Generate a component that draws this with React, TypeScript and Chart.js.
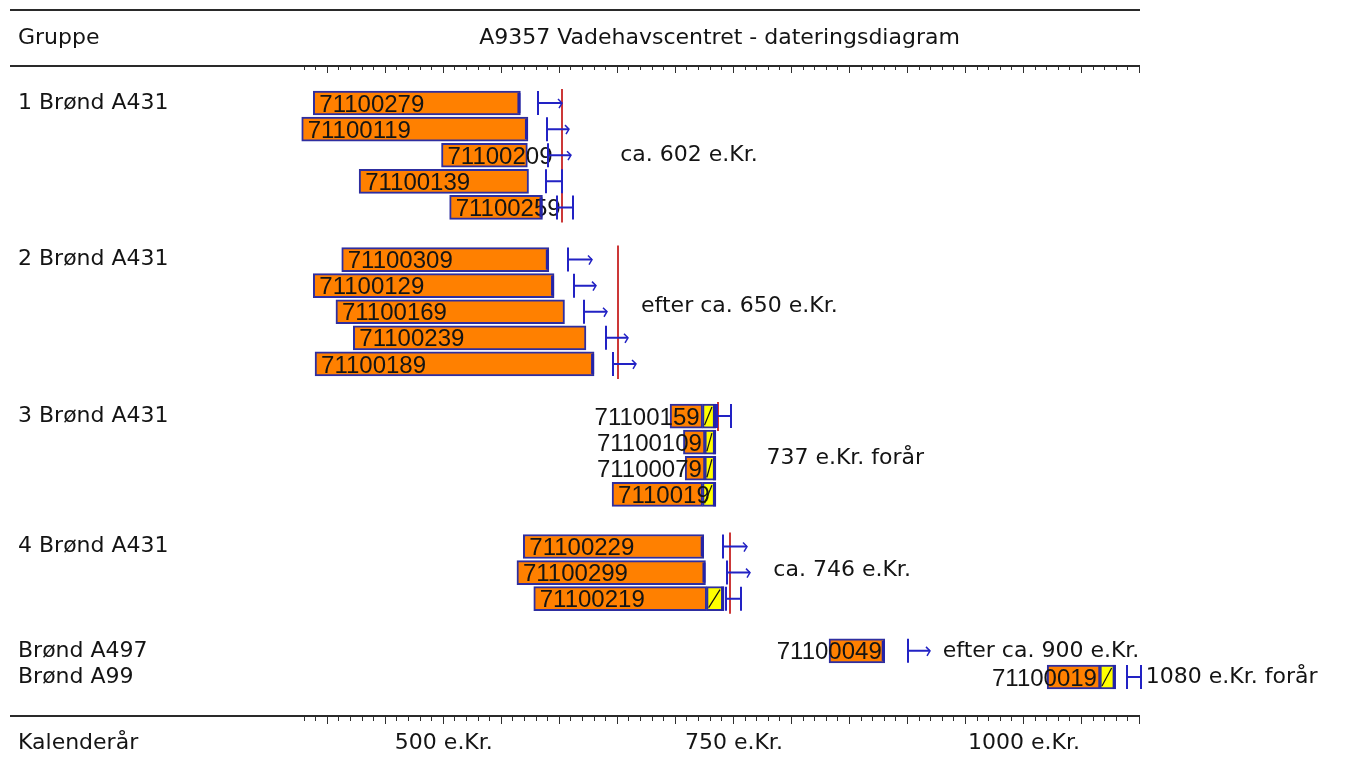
import { useEffect, useRef } from 'react';
import { Chart, registerables } from 'chart.js';

Chart.register(...registerables);

// ---- Data (one entry per diagram row; '' / null rows are spacer rows) ----
const groupLabels = [
  '1 Brønd A431', '', '', '', '', '',
  '2 Brønd A431', '', '', '', '', '',
  '3 Brønd A431', '', '', '', '',
  '4 Brønd A431', '', '', '',
  'Brønd A497', 'Brønd A99',
];
const sampleIds = [
  '71100279', '71100119', '71100209', '71100139', '71100259', '',
  '71100309', '71100129', '71100169', '71100239', '71100189', '',
  '71100159', '71100109', '71100079', '7110019', '',
  '71100229', '71100299', '71100219', '',
  '71100049', '71100019',
];
// first ring (calendar year)
const ringStart = [
  387.5, 377.5, 498, 427, 505, null,
  412, 387.5, 407, 422, 389, null,
  695, 706.5, 708, 645, null,
  568.5, 563, 577.5, null,
  832, 1020,
];
// last heartwood ring
const heartEnd = [
  566, 572.5, 572, 573, 585, null,
  590.5, 595, 604, 622.5, 629.5, null,
  723, 725, 725, 723, null,
  724, 725.5, 726.5, null,
  880, 1065.5,
];
// last sapwood ring (null = no sapwood preserved)
const sapwoodEnd = [
  null, null, null, null, null, null,
  null, null, null, null, null, null,
  734.5, 734.5, 734.5, 734.5, null,
  null, null, 741.5, null,
  null, 1079,
];
// thick end mark on the last ring
const endMarked = [
  true, true, false, false, true, false,
  true, true, false, false, true, false,
  true, true, true, true, false,
  true, true, true, false,
  true, true,
];
// estimated felling interval per sample
const fellingFrom = [
  581.5, 588.5, 590, 588, 597.5, null,
  607, 612.5, 621, 640, 645.5, null,
  735.5, null, null, null, null,
  740.5, 744, 743.5, null,
  900, 1088.5,
];
const fellingTo = [
  601.5, 608, 610, 601.5, 611.5, null,
  627.5, 631, 640.5, 659, 666, null,
  747.5, null, null, null, null,
  761, 763.5, 756, null,
  919, 1101,
];
const fellingOpenEnded = [
  true, true, true, false, false, false,
  true, true, true, true, true, false,
  false, false, false, false, false,
  true, true, false, false,
  true, false,
];
// group felling dates (red lines)
const groupFellingYear = [602, 650, 736, 746.5];
const groupFirstRow = [0, 6, 12, 17];
const groupLastRow = [4, 10, 12, 19];
// dating notes
const noteTexts = [
  'ca. 602 e.Kr.', 'efter ca. 650 e.Kr.', '737 e.Kr. forår',
  'ca. 746 e.Kr.', 'efter ca. 900 e.Kr.', '1080 e.Kr. forår',
];
const noteRows = [2, 7.8, 13.6, 17.9, 21, 22];
const noteYears = [652, 670, 778, 784, 930, 1105];
// axis
const axisLabelYears = [500, 750, 1000];
const axisMin = 370;
const axisMax = 1100;
const minorTickFrom = 380;

const TITLE = 'A9357 Vadehavscentret - dateringsdiagram';
const FONT = '"DejaVu Sans", sans-serif';
const ID_FONT = '"Liberation Sans", Arial, sans-serif';

const ORANGE = '#ff8000';
const YELLOW = '#ffff00';
const BAR_BORDER = '#2e2ea0';
const EDGE = '#2424a8';
const BRACKET = '#2222c4';
const RED = '#cc3838';
const TEXT = '#141414';

function rowY(yScale: any, r: number) {
  const p0 = yScale.getPixelForValue(0);
  const p1 = yScale.getPixelForValue(1);
  return p0 + r * (p1 - p0);
}

const decorPlugin = {
  id: 'decor',
  beforeDatasetsDraw(chart: any) {
    const { ctx } = chart;
    const xs = chart.scales.x;
    const ys = chart.scales.y;
    ctx.save();
    ctx.strokeStyle = RED;
    ctx.lineWidth = 2;
    groupFellingYear.forEach((yr, g) => {
      const px = Math.round(xs.getPixelForValue(yr));
      const t = rowY(ys, groupFirstRow[g]) - 14;
      const b = rowY(ys, groupLastRow[g]) + 15;
      ctx.beginPath();
      ctx.moveTo(px, t);
      ctx.lineTo(px, b);
      ctx.stroke();
    });
    ctx.restore();
  },
  afterDatasetsDraw(chart: any) {
    const { ctx } = chart;
    const xs = chart.scales.x;
    const ys = chart.scales.y;
    ctx.save();
    // hatch in sapwood
    ctx.strokeStyle = '#111';
    ctx.lineWidth = 1.2;
    sapwoodEnd.forEach((se, i) => {
      if (se == null || heartEnd[i] == null) return;
      const cy = ys.getPixelForValue(i);
      const x0 = xs.getPixelForValue(heartEnd[i] as number);
      const x1 = xs.getPixelForValue(se);
      ctx.beginPath();
      ctx.moveTo(x0 + 2, cy + 9);
      ctx.lineTo(x1 - 4, cy - 9);
      ctx.stroke();
    });
    // sample ids
    ctx.font = `24px ${ID_FONT}`;
    ctx.fillStyle = TEXT;
    ctx.textBaseline = 'middle';
    sampleIds.forEach((id, i) => {
      if (!id || ringStart[i] == null) return;
      const cy = ys.getPixelForValue(i) + 2;
      const x0 = xs.getPixelForValue(ringStart[i] as number);
      const x1 = xs.getPixelForValue(heartEnd[i] as number);
      if (x1 - x0 > 60) {
        ctx.textAlign = 'left';
        ctx.fillText(id, x0 + 6, cy);
      } else {
        ctx.textAlign = 'right';
        ctx.fillText(id, x1 - 3, cy);
      }
    });
    // thick end marks
    ctx.fillStyle = EDGE;
    endMarked.forEach((m, i) => {
      if (!m) return;
      const end = sapwoodEnd[i] ?? heartEnd[i];
      if (end == null) return;
      const cy = ys.getPixelForValue(i);
      const px = xs.getPixelForValue(end);
      const full = sapwoodEnd[i] != null;
      ctx.fillRect(px - 3, cy - (full ? 12 : 10), 3, full ? 24 : 20);
    });
    // felling brackets
    ctx.strokeStyle = BRACKET;
    fellingFrom.forEach((f, i) => {
      const t = fellingTo[i];
      if (f == null || t == null) return;
      const cy = ys.getPixelForValue(i);
      const x0 = Math.round(xs.getPixelForValue(f));
      const x1 = Math.round(xs.getPixelForValue(t));
      ctx.lineWidth = 2;
      ctx.beginPath();
      ctx.moveTo(x0, cy - 12);
      ctx.lineTo(x0, cy + 12);
      ctx.moveTo(x0, cy);
      ctx.lineTo(x1, cy);
      if (!fellingOpenEnded[i]) {
        ctx.moveTo(x1, cy - 12);
        ctx.lineTo(x1, cy + 12);
      }
      ctx.stroke();
      if (fellingOpenEnded[i]) {
        ctx.lineWidth = 1.5;
        ctx.beginPath();
        ctx.moveTo(x1 - 4, cy - 4);
        ctx.lineTo(x1, cy);
        ctx.lineTo(x1 - 3, cy + 5);
        ctx.stroke();
      }
    });
    // notes
    ctx.font = `22px ${FONT}`;
    ctx.fillStyle = TEXT;
    ctx.textAlign = 'left';
    ctx.textBaseline = 'middle';
    noteTexts.forEach((txt, k) => {
      ctx.fillText(txt, xs.getPixelForValue(noteYears[k]), rowY(ys, noteRows[k]));
    });
    ctx.restore();
  },
  afterDraw(chart: any) {
    const { ctx, chartArea } = chart;
    const xs = chart.scales.x;
    ctx.save();
    const ruleLeft = 10;
    const ruleRight = chartArea.right;
    const topRule = chartArea.top - 24;
    const bottomRule = chartArea.bottom + 26;
    ctx.strokeStyle = '#2a2a2a';
    ctx.lineWidth = 2;
    [10, topRule, bottomRule].forEach((yy) => {
      ctx.beginPath();
      ctx.moveTo(ruleLeft, yy);
      ctx.lineTo(ruleRight, yy);
      ctx.stroke();
    });
    // scale ticks
    ctx.strokeStyle = '#303030';
    ctx.lineWidth = 1;
    for (let yr = minorTickFrom; yr <= axisMax; yr += 10) {
      const px = Math.round(xs.getPixelForValue(yr)) - 0.5;
      const major = yr % 50 === 0;
      ctx.beginPath();
      ctx.moveTo(px, topRule + 1);
      ctx.lineTo(px, topRule + (major ? 7 : 4));
      ctx.moveTo(px, bottomRule + 1);
      ctx.lineTo(px, bottomRule + (major ? 8 : 5));
      ctx.stroke();
    }
    // header texts
    ctx.font = `22px ${FONT}`;
    ctx.fillStyle = TEXT;
    ctx.textBaseline = 'middle';
    ctx.textAlign = 'left';
    ctx.fillText('Gruppe', 18, 38);
    ctx.fillText('Kalenderår', 18, 743);
    ctx.textAlign = 'center';
    ctx.fillText(TITLE, (chartArea.left + chartArea.right) / 2 + 3, 38);
    ctx.restore();
  },
};

export default function App() {
  const ref = useRef<HTMLCanvasElement>(null);
  useEffect(() => {
    if (!ref.current) return;
    const heartData = ringStart.map((s, i) =>
      s == null || heartEnd[i] == null ? null : [s, heartEnd[i] as number]
    );
    const sapData = sapwoodEnd.map((e, i) =>
      e == null || heartEnd[i] == null ? null : [heartEnd[i] as number, e]
    );
    const chart = new Chart(ref.current, {
      type: 'bar',
      data: {
        labels: groupLabels,
        datasets: [
          {
            label: 'Kerneved',
            data: heartData as any,
            backgroundColor: ORANGE,
            borderColor: BAR_BORDER,
            borderWidth: 2,
            borderSkipped: false,
            barThickness: 24,
            grouped: false,
          },
          {
            label: 'Splintved',
            data: sapData as any,
            backgroundColor: YELLOW,
            borderColor: BAR_BORDER,
            borderWidth: 2,
            borderSkipped: false,
            barThickness: 24,
            grouped: false,
          },
        ],
      },
      options: {
        indexAxis: 'y',
        animation: false,
        responsive: true,
        maintainAspectRatio: false,
        layout: { padding: { left: 18, right: 206, top: 90, bottom: 0 } },
        plugins: {
          legend: { display: false },
          tooltip: { enabled: false },
          title: { display: false },
        },
        scales: {
          x: {
            type: 'linear',
            position: 'bottom',
            min: axisMin,
            max: axisMax,
            grid: { display: false, drawTicks: false },
            border: { display: false },
            afterBuildTicks: (scale: any) => {
              scale.ticks = axisLabelYears.map((v) => ({ value: v }));
            },
            afterFit: (scale: any) => {
              scale.height = 74;
            },
            ticks: {
              autoSkip: false,
              maxRotation: 0,
              padding: 40,
              color: TEXT,
              font: { family: FONT, size: 22 },
              callback: (v: any) => `${v} e.Kr.`,
            },
          },
          y: {
            type: 'category',
            position: 'left',
            offset: true,
            grid: { display: false, drawTicks: false },
            border: { display: false },
            afterFit: (scale: any) => {
              scale.width = 275;
            },
            ticks: {
              autoSkip: false,
              crossAlign: 'far',
              padding: 0,
              color: TEXT,
              font: { family: FONT, size: 22 },
            },
          },
        },
      },
      plugins: [decorPlugin],
    });
    return () => chart.destroy();
  }, []);
  return (
    <div
      style={{
        position: 'absolute',
        left: 0,
        top: 0,
        width: 1346,
        height: 764,
        background: '#fff',
      }}
    >
      <canvas ref={ref} />
    </div>
  );
}
